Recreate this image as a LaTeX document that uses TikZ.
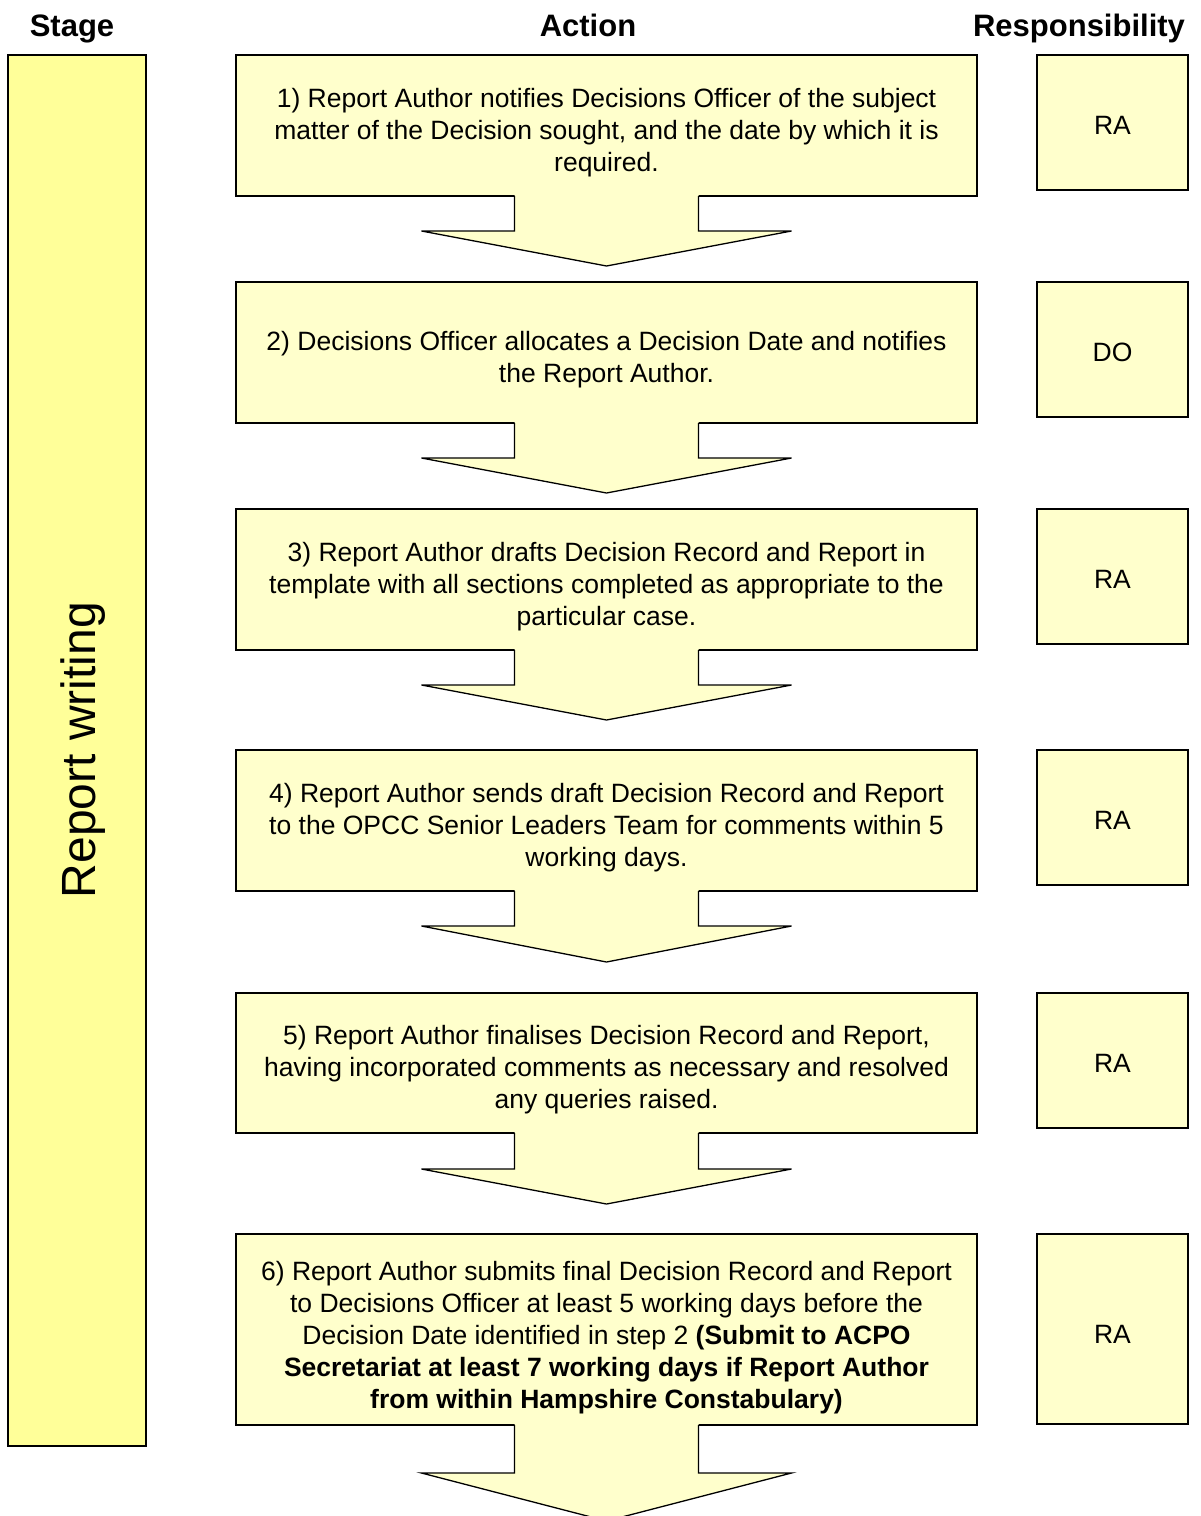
\documentclass[tikz,border=0pt]{standalone}
\usepackage{fontspec}
\setmainfont{Liberation Sans}
\usetikzlibrary{calc,shadows}
\definecolor{boxfill}{HTML}{FFFFCC}
\definecolor{stagefill}{HTML}{FFFF99}
\newcommand{\blockarrow}[3]{%
  \fill[arrowfill] ($(#1.south)+(-92,-1)$) -- ($(#1.south)+(-92,#2)$) -- ($(#1.south)+(-185,#2)$)
    -- ($(#1.south)+(0,#3)$) -- ($(#1.south)+(185,#2)$) -- ($(#1.south)+(92,#2)$)
    -- ($(#1.south)+(92,-1)$) -- cycle;
  \draw[arrowline] ($(#1.south)+(-92,0)$) -- ($(#1.south)+(-92,#2)$) -- ($(#1.south)+(-185,#2)$)
    -- ($(#1.south)+(0,#3)$) -- ($(#1.south)+(185,#2)$) -- ($(#1.south)+(92,#2)$)
    -- ($(#1.south)+(92,0)$);
}
\begin{document}
\begin{tikzpicture}[x=1pt,y=-1pt,
  shad/.style={drop shadow={shadow xshift=1.2pt,shadow yshift=-1.2pt,fill=black!45,opacity=1}},
  actbox/.style={draw=black, line width=1.3pt, fill=boxfill, minimum width=741pt,
    inner sep=0pt, outer sep=0pt, anchor=north west, shad},
  respbox/.style={draw=black, line width=1.3pt, fill=boxfill, minimum width=151pt,
    inner sep=0pt, outer sep=0pt, anchor=north west, shad},
  bodytext/.style={inner sep=0pt, align=center, font=\fontsize{26.5}{32}\selectfont},
  stagebox/.style={draw=black, line width=1.3pt, fill=stagefill, minimum width=138pt,
    minimum height=1391pt, inner sep=0pt, outer sep=0pt, anchor=north west, shad},
  header/.style={font=\fontsize{31}{36}\selectfont\bfseries, inner sep=0pt, anchor=base},
  arrowfill/.style={fill=boxfill},
  arrowline/.style={draw=black, line width=1.3pt, line join=miter},
]
\useasboundingbox (0,0) rectangle (1200,1516);

% headers
\node[header] (hstage) at (72,36) {Stage};
\node[header] (haction) at (588,36) {Action};
\node[header] (hresp) at (1079,36) {Responsibility};

% stage
\node[stagebox] (stage) at (8,55) {};
\node[rotate=90, font=\fontsize{48}{56}\selectfont, inner sep=0pt] (stagetxt) at (83,750) {Report writing};

% action boxes
\node[actbox, minimum height=141pt] (b1) at (236,55) {};
\node[actbox, minimum height=141pt] (b2) at (236,282) {};
\node[actbox, minimum height=141pt] (b3) at (236,509) {};
\node[actbox, minimum height=141pt] (b4) at (236,750) {};
\node[actbox, minimum height=140pt] (b5) at (236,993) {};
\node[actbox, minimum height=191pt] (b6) at (236,1234) {};

\node[bodytext] (t1) at ($(b1.center)+(0,7)$) {1) Report Author notifies Decisions Officer of the subject\\ matter of the Decision sought, and the date by which it is\\ required.};
\node[bodytext] (t2) at ($(b2.center)+(0,7)$) {2) Decisions Officer allocates a Decision Date and notifies\\ the Report Author.};
\node[bodytext] (t3) at ($(b3.center)+(0,7)$) {3) Report Author drafts Decision Record and Report in\\ template with all sections completed as appropriate to the\\ particular case.};
\node[bodytext] (t4) at ($(b4.center)+(0,7)$) {4) Report Author sends draft Decision Record and Report\\ to the OPCC Senior Leaders Team for comments within 5\\ working days.};
\node[bodytext] (t5) at ($(b5.center)+(0,7)$) {5) Report Author finalises Decision Record and Report,\\ having incorporated comments as necessary and resolved\\ any queries raised.};
\node[bodytext] (t6) at ($(b6.center)+(0,8)$) {6) Report Author submits final Decision Record and Report\\ to Decisions Officer at least 5 working days before the\\ Decision Date identified in step 2 \textbf{(Submit to ACPO}\\ \textbf{Secretariat at least 7 working days if Report Author}\\ \textbf{from within Hampshire Constabulary)}};

% responsibility boxes
\node[respbox, minimum height=135pt] (r1) at (1037,55) {};
\node[respbox, minimum height=135pt] (r2) at (1037,282) {};
\node[respbox, minimum height=135pt] (r3) at (1037,509) {};
\node[respbox, minimum height=135pt] (r4) at (1037,750) {};
\node[respbox, minimum height=135pt] (r5) at (1037,993) {};
\node[respbox, minimum height=190pt] (r6) at (1037,1234) {};
\node[bodytext] (rt1) at ($(r1.center)+(0,3)$) {RA};
\node[bodytext] (rt2) at ($(r2.center)+(0,3)$) {DO};
\node[bodytext] (rt3) at ($(r3.center)+(0,3)$) {RA};
\node[bodytext] (rt4) at ($(r4.center)+(0,3)$) {RA};
\node[bodytext] (rt5) at ($(r5.center)+(0,3)$) {RA};
\node[bodytext] (rt6) at ($(r6.center)+(0,5)$) {RA};

% block arrows
\blockarrow{b1}{35}{70}
\blockarrow{b2}{35}{70}
\blockarrow{b3}{35}{70}
\blockarrow{b4}{35}{71}
\blockarrow{b5}{36}{71}
\blockarrow{b6}{48}{96}
\end{tikzpicture}
\end{document}
